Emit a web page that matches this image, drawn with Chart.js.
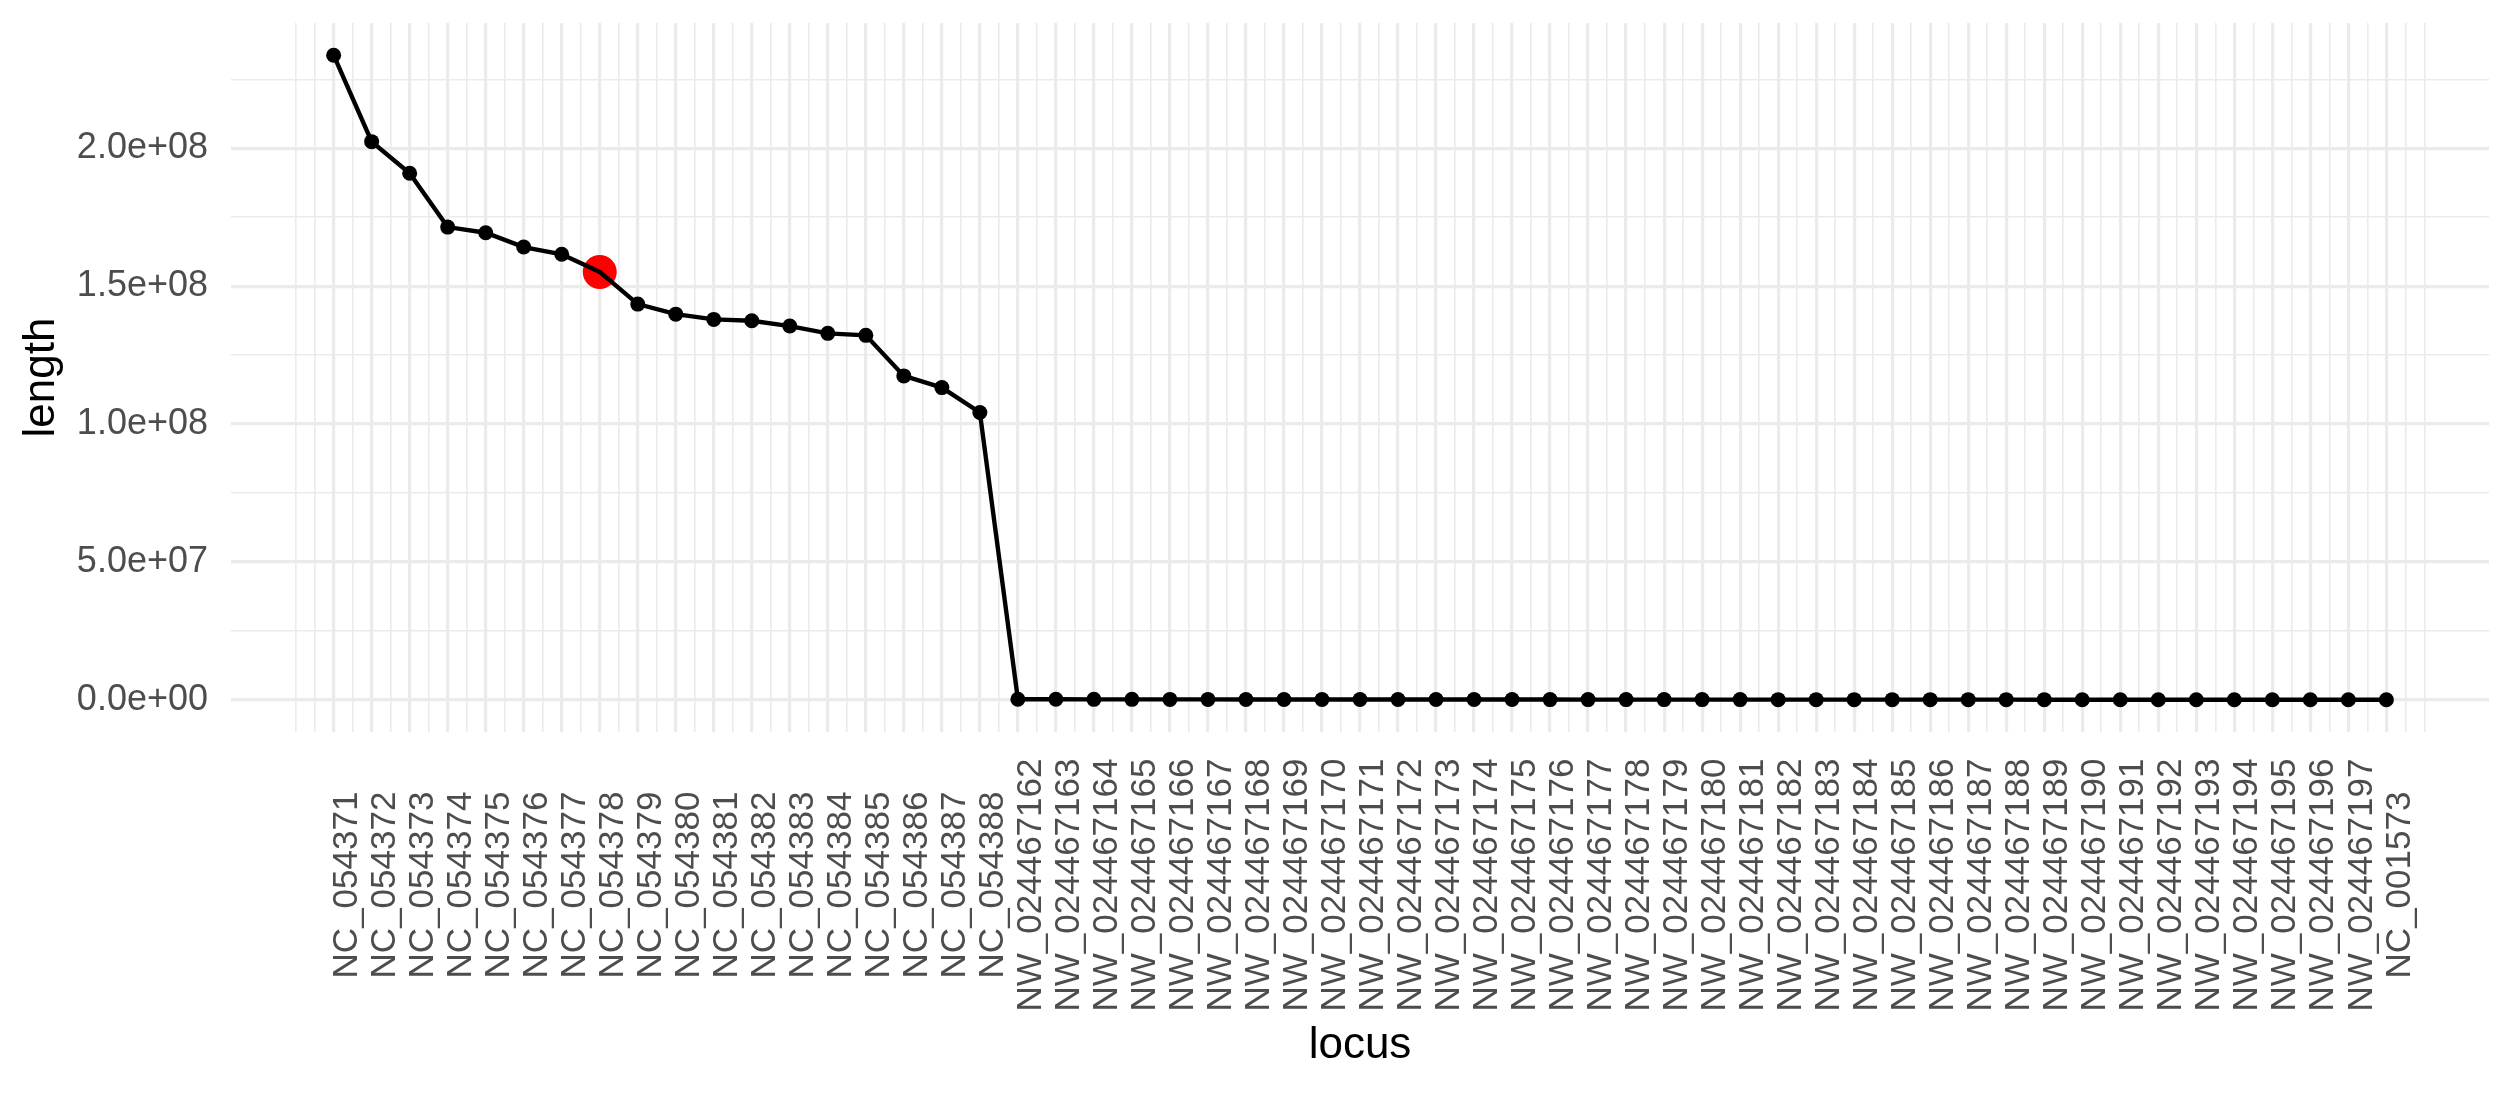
<!DOCTYPE html>
<html>
<head>
<meta charset="utf-8">
<script src="https://cdn.jsdelivr.net/npm/chart.js@4/dist/chart.umd.min.js"></script>
<style>
  body { margin: 0; background: #ffffff; }
  canvas { display: block; }
</style>
</head>
<body>
<canvas id="lociChart" width="2513" height="1095"></canvas>
<script>
// loci, in the order they are plotted
var loci = [
    'NC_054371', 'NC_054372', 'NC_054373', 'NC_054374', 'NC_054375', 'NC_054376',
    'NC_054377', 'NC_054378', 'NC_054379', 'NC_054380', 'NC_054381', 'NC_054382',
    'NC_054383', 'NC_054384', 'NC_054385', 'NC_054386', 'NC_054387', 'NC_054388',
    'NW_024467162', 'NW_024467163', 'NW_024467164', 'NW_024467165', 'NW_024467166',
    'NW_024467167', 'NW_024467168', 'NW_024467169', 'NW_024467170', 'NW_024467171',
    'NW_024467172', 'NW_024467173', 'NW_024467174', 'NW_024467175', 'NW_024467176',
    'NW_024467177', 'NW_024467178', 'NW_024467179', 'NW_024467180', 'NW_024467181',
    'NW_024467182', 'NW_024467183', 'NW_024467184', 'NW_024467185', 'NW_024467186',
    'NW_024467187', 'NW_024467188', 'NW_024467189', 'NW_024467190', 'NW_024467191',
    'NW_024467192', 'NW_024467193', 'NW_024467194', 'NW_024467195', 'NW_024467196',
    'NW_024467197', 'NC_001573'
];

// lengths (bp); scaffolds all sit on the zero line
var lengths = [
    233770000, 202420000, 190960000, 171440000, 169400000, 164200000,
    161570000, 155170000, 143500000, 139870000, 137960000, 137450000,
    135540000, 132900000, 132180000, 117460000, 113230000, 104190000,
    210000, 185000, 160000, 150000, 142000, 131000, 120000, 112000,
    105000, 98000, 91000, 86000, 80000, 76000, 71000, 67000, 63000,
    60000, 57000, 54000, 51000, 48000, 45000, 42000, 40000, 38000,
    36000, 34000, 32000, 30000, 28000, 26000, 24000, 22000, 20000,
    18000, 16700
];

// highlighted locus (red dot)
var highlight = 'NC_054378';

// y tick values (labelled majors + unlabelled minors)
var yMajor = [0, 50000000, 100000000, 150000000, 200000000];
var yMinor = [25000000, 75000000, 125000000, 175000000, 225000000];

var gridColor = '#ebebeb';
var textColor = '#4d4d4d';
var fontFamily = "'Liberation Sans', Arial, Helvetica, sans-serif";

function fmtSci(v) {
    var parts = v.toExponential(1).split('e');
    var exp = parts[1];
    return parts[0] + 'e' + exp[0] + exp.slice(1).padStart(2, '0');
}

var points = loci.map(function(name, i) {
    return { x: i + 1, y: lengths[i] };
});
var hi = loci.indexOf(highlight);

// x tick labels: centred vertically like the ggplot original
var xLabelsPlugin = {
    id: 'xLabels',
    afterDraw: function(chart) {
        var ctx = chart.ctx;
        var xs = chart.scales.x;
        ctx.save();
        ctx.fillStyle = textColor;
        ctx.font = '35px ' + fontFamily;
        ctx.textAlign = 'center';
        ctx.textBaseline = 'middle';
        loci.forEach(function(name, i) {
            var px = xs.getPixelForValue(i + 1) + 13.5;
            ctx.save();
            ctx.translate(px, 885);
            ctx.rotate(-Math.PI / 2);
            ctx.fillText(name, 0, 0);
            ctx.restore();
        });
        ctx.restore();
    }
};

// draw order: black points, then red dot, then the line on top
var ctxLoci = document.getElementById('lociChart').getContext('2d');
new Chart(ctxLoci, {
    type: 'scatter',
    data: {
        datasets: [{
            label: 'line',
            data: points,
            showLine: true,
            borderColor: '#000000',
            borderWidth: 4.4,
            pointRadius: 0,
            tension: 0,
            order: 1
        }, {
            label: highlight,
            data: [{ x: hi + 1, y: lengths[hi] }],
            showLine: false,
            pointRadius: 17,
            pointBackgroundColor: '#ff0000',
            pointBorderWidth: 0,
            order: 2
        }, {
            label: 'length',
            data: points,
            showLine: false,
            pointRadius: 7.5,
            pointBackgroundColor: '#000000',
            pointBorderWidth: 0,
            order: 3
        }]
    },
    options: {
        responsive: false,
        animation: false,
        devicePixelRatio: 1,
        layout: { padding: { top: 23, right: 24, left: 0, bottom: 0 } },
        plugins: {
            legend: { display: false },
            tooltip: { enabled: false }
        },
        scales: {
            x: {
                type: 'linear',
                min: -1.7,
                max: 57.7,
                afterBuildTicks: function(scale) {
                    var t = [];
                    for (var v = 0; v <= 56; v += 0.5) t.push({ value: v });
                    scale.ticks = t;
                },
                afterFit: function(scale) {
                    scale.height = 363;
                    scale.paddingLeft = 0;
                    scale.paddingRight = 0;
                },
                ticks: { display: false, autoSkip: false },
                grid: {
                    color: gridColor,
                    drawTicks: false,
                    lineWidth: function(c) {
                        var v = c.tick ? c.tick.value : 0;
                        return (Number.isInteger(v) && v >= 1 && v <= loci.length) ? 3.2 : 1.6;
                    }
                },
                border: { display: false },
                title: {
                    display: true,
                    text: 'locus',
                    color: '#000000',
                    font: { family: fontFamily, size: 44 },
                    padding: { top: 0, bottom: 23 }
                }
            },
            y: {
                type: 'linear',
                min: -11690000,
                max: 245460000,
                afterBuildTicks: function(scale) {
                    scale.ticks = yMajor.concat(yMinor).sort(function(a, b) { return a - b; })
                        .map(function(v) { return { value: v }; });
                },
                afterFit: function(scale) {
                    scale.width = 231;
                    scale.paddingTop = 0;
                    scale.paddingBottom = 0;
                },
                ticks: {
                    autoSkip: false,
                    padding: 23,
                    color: textColor,
                    font: { family: fontFamily, size: 36 },
                    callback: function(v) {
                        return yMajor.indexOf(v) >= 0 ? fmtSci(v) : '';
                    }
                },
                grid: {
                    color: gridColor,
                    drawTicks: false,
                    lineWidth: function(c) {
                        var v = c.tick ? c.tick.value : 0;
                        return yMajor.indexOf(v) >= 0 ? 3.2 : 1.6;
                    }
                },
                border: { display: false },
                title: {
                    display: true,
                    text: 'length',
                    color: '#000000',
                    font: { family: fontFamily, size: 44 },
                    padding: { top: 15, bottom: 0 }
                }
            }
        }
    },
    plugins: [xLabelsPlugin]
});
</script>
</body>
</html>
